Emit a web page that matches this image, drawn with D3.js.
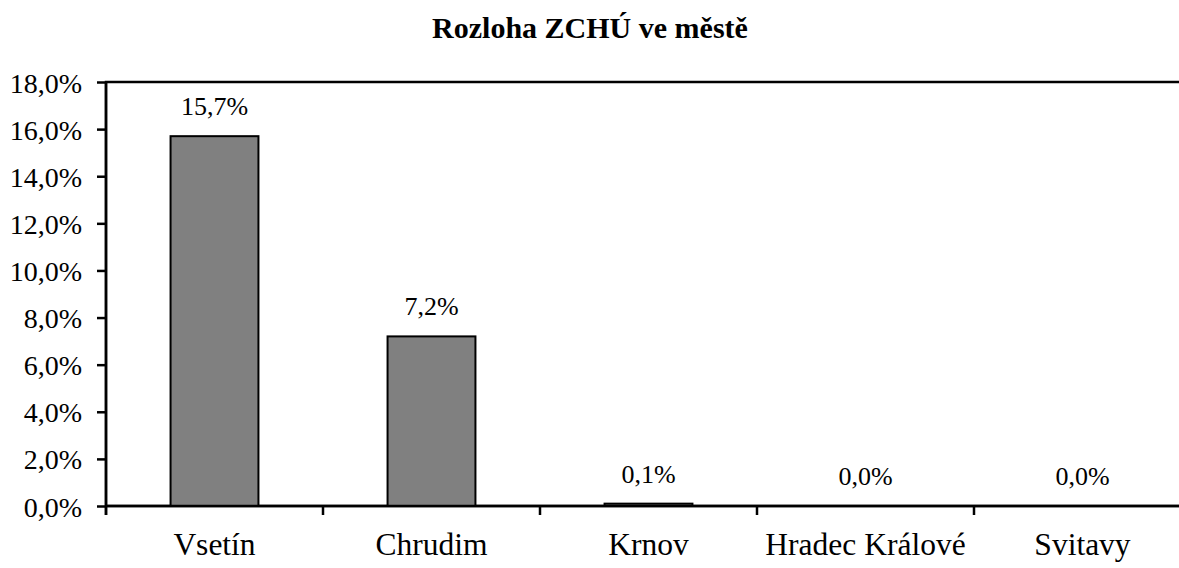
<!DOCTYPE html>
<html>
<head>
<meta charset="utf-8">
<script src="https://cdn.jsdelivr.net/npm/d3@7"></script>
</head>
<body style="margin:0">
<script>
var categories = ["Vsetín", "Chrudim", "Krnov", "Hradec Králové", "Svitavy"];
var shares = [0.157, 0.072, 0.001, 0.0, 0.0];
var yTicks = [0, 0.02, 0.04, 0.06, 0.08, 0.10, 0.12, 0.14, 0.16, 0.18];
var chartTitle = "Rozloha ZCHÚ ve městě";

var WIDTH = 1179, HEIGHT = 568;
var plot = { left: 106, right: 1191, top: 82, bottom: 506 };
var TICK = 9;
var FONT = "'Liberation Serif'";

var cz = d3.formatLocale({ decimal: ",", thousands: " ", grouping: [3], currency: ["", " Kč"] });
var pct = cz.format(".1%");

var svg = d3.select("body").append("svg")
  .attr("width", WIDTH)
  .attr("height", HEIGHT)
  .style("display", "block");

var x = d3.scaleBand()
  .domain(categories)
  .range([plot.left, plot.right])
  .paddingInner(0.595)
  .paddingOuter(0.2975);

var y = d3.scaleLinear()
  .domain([0, 0.18])
  .range([plot.bottom, plot.top]);

// title
svg.append("text")
  .attr("x", 590)
  .attr("y", 38)
  .attr("text-anchor", "middle")
  .style("font-family", FONT)
  .style("font-size", "30px")
  .style("font-weight", "bold")
  .text(chartTitle);

// plot frame (right side falls outside the picture)
svg.append("rect")
  .attr("x", plot.left)
  .attr("y", plot.top)
  .attr("width", plot.right - plot.left)
  .attr("height", plot.bottom - plot.top)
  .attr("fill", "none")
  .attr("stroke", "#000")
  .attr("stroke-width", 2.5);

// bars
svg.append("g").selectAll("rect")
  .data(shares)
  .enter()
  .append("rect")
  .attr("x", function (d, i) { return x(categories[i]); })
  .attr("y", function (d) { return y(d); })
  .attr("width", x.bandwidth())
  .attr("height", function (d) { return y(0) - y(d); })
  .attr("fill", "#808080")
  .attr("stroke", "#000")
  .attr("stroke-width", 2);

// value labels
svg.append("g").selectAll("text")
  .data(shares)
  .enter()
  .append("text")
  .attr("x", function (d, i) { return x(categories[i]) + x.bandwidth() / 2; })
  .attr("y", function (d) { return y(d) - 21; })
  .attr("text-anchor", "middle")
  .style("font-family", FONT)
  .style("font-size", "26px")
  .text(function (d) { return pct(d); });

// y axis
var yAxis = svg.append("g")
  .attr("transform", "translate(" + plot.left + ",0)")
  .call(d3.axisLeft(y).tickValues(yTicks).tickFormat(pct).tickSize(TICK).tickSizeOuter(0).tickPadding(15));
yAxis.select(".domain").remove();
yAxis.selectAll(".tick line").attr("stroke", "#000").attr("stroke-width", 2.5);
yAxis.selectAll(".tick text")
  .style("font-family", FONT)
  .style("font-size", "28px")
  .attr("fill", "#000")
  .attr("dy", "0.36em");
yAxis.append("line")
  .attr("x1", 0).attr("x2", 0)
  .attr("y1", plot.top).attr("y2", plot.bottom + TICK)
  .attr("stroke", "#000")
  .attr("stroke-width", 2.5);

// x axis: ticks on category boundaries, labels in the middle
var gap = x.step() - x.bandwidth();
var bounds = categories.map(function (c) { return x(c) - gap / 2; });
bounds.push(x(categories[categories.length - 1]) + x.bandwidth() + gap / 2);

var xAxis = svg.append("g");
xAxis.append("line")
  .attr("x1", plot.left).attr("x2", plot.right)
  .attr("y1", plot.bottom).attr("y2", plot.bottom)
  .attr("stroke", "#000")
  .attr("stroke-width", 2.5);
xAxis.selectAll("line.tick")
  .data(bounds)
  .enter()
  .append("line")
  .attr("class", "tick")
  .attr("x1", function (d) { return d; })
  .attr("x2", function (d) { return d; })
  .attr("y1", plot.bottom)
  .attr("y2", plot.bottom + TICK)
  .attr("stroke", "#000")
  .attr("stroke-width", 2.5);
xAxis.selectAll("text.cat")
  .data(categories)
  .enter()
  .append("text")
  .attr("class", "cat")
  .attr("x", function (d) { return x(d) + x.bandwidth() / 2; })
  .attr("y", 555)
  .attr("text-anchor", "middle")
  .style("font-family", FONT)
  .style("font-size", "31.5px")
  .text(function (d) { return d; });
</script>
</body>
</html>
